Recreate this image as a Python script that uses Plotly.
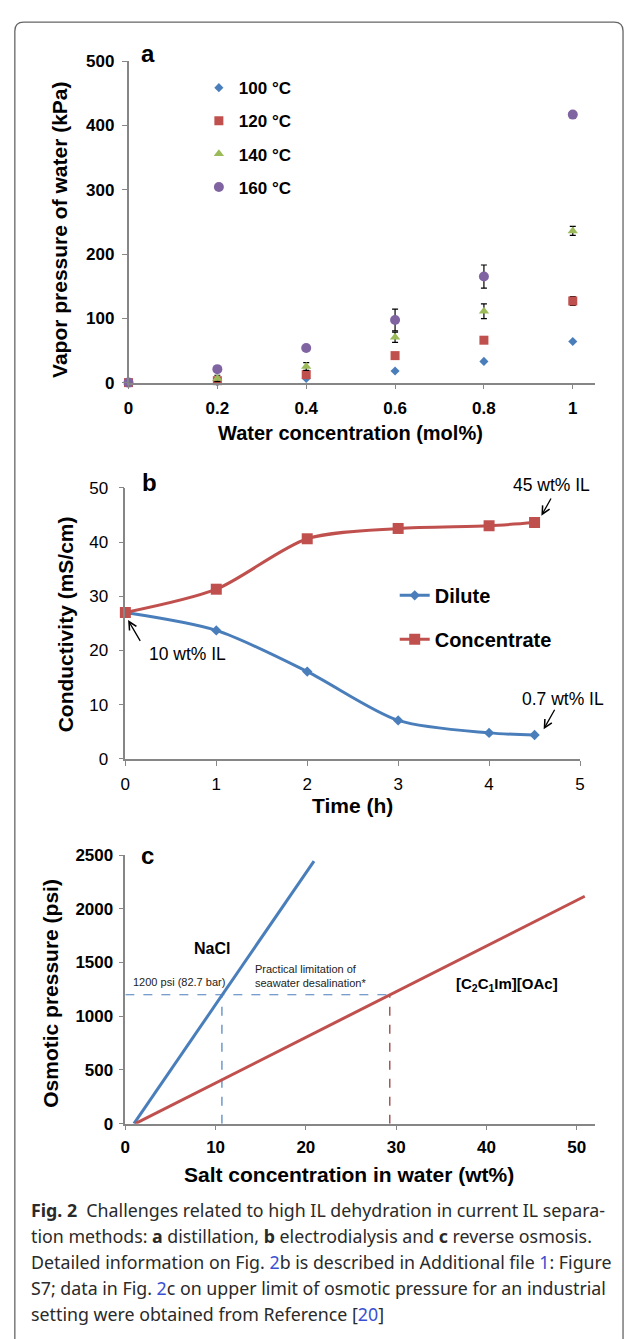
import plotly.graph_objects as go

W, H = 630, 1339
FONT = "Liberation Sans, Arial, sans-serif"
CAP_FONT = "Noto Sans, Open Sans, sans-serif"

# ---------------- Panel a data ----------------
water_conc = [0, 0.2, 0.4, 0.6, 0.8, 1.0]
x_ticks_a = [0, 0.2, 0.4, 0.6, 0.8, 1.0]
x_ticktext_a = ["0", "0.2", "0.4", "0.6", "0.8", "1"]
vp_100 = [0, 1, 6.5, 18, 33, 64]
vp_120 = [0, 3, 12.5, 42, 66, 127]
vp_140 = [0, 6.5, 25, 70.5, 111, 236]
vp_160 = [0, 21, 54, 97.5, 165, 417]
err_100 = [0, 0, 0, 0, 0, 0]
err_120 = [0, 0, 0, 0, 5, 7]
err_140 = [0, 5, 6, 8, 11.5, 7]
err_160 = [0, 0, 0, 17, 18, 0]
series_names_a = ["100 °C", "120 °C", "140 °C", "160 °C"]

# ---------------- Panel b data ----------------
time_h = [0, 1, 2, 3, 4, 4.5]
dilute = [27.0, 23.7, 16.1, 7.1, 4.8, 4.4]
concentrate = [27.0, 31.3, 40.6, 42.5, 43.0, 43.6]

# ---------------- Panel c data ----------------
nacl_conc = [0.95, 20.9]
nacl_psi = [0, 2445]
il_conc = [1.1, 50.9]
il_psi = [0, 2117]
limit_psi = 1200
nacl_limit_conc = 10.7
il_limit_conc = 29.3

BLUE = "#4A7EBB"
RED = "#C0504D"
GREEN = "#9BBB59"
PURPLE = "#8064A2"
AXIS = "#868686"


def px(x):
    return x / W


def py(y):
    return 1 - y / H


fig = go.Figure()

# ---- panel a traces ----
specs = [
    (vp_100, err_100, BLUE, "diamond", 7),
    (vp_120, err_120, RED, "square", 9),
    (vp_140, err_140, GREEN, "triangle-up", 9),
    (vp_160, err_160, PURPLE, "circle", 10),
]
for name, (vals, errs, col, sym, sz) in zip(series_names_a, specs):
    fig.add_trace(go.Scatter(
        x=water_conc, y=vals, mode="markers", name=name,
        marker=dict(color=col, symbol=sym, size=sz),
        error_y=dict(type="data", array=errs, visible=True, color="black",
                     thickness=1.2, width=3),
        xaxis="x", yaxis="y", cliponaxis=False,
        legend="legend", legendgroup=name,
    ))

# ---- panel b traces ----
fig.add_trace(go.Scatter(
    x=time_h, y=dilute, mode="lines+markers", name="Dilute",
    line=dict(color=BLUE, width=3, shape="spline", smoothing=0.8),
    marker=dict(color=BLUE, symbol="diamond", size=8),
    xaxis="x2", yaxis="y2", cliponaxis=False, legend="legend2", legendgroup="dil",
))
fig.add_trace(go.Scatter(
    x=time_h, y=concentrate, mode="lines+markers", name="Concentrate",
    line=dict(color=RED, width=3, shape="spline", smoothing=0.8),
    marker=dict(color=RED, symbol="square", size=11),
    xaxis="x2", yaxis="y2", cliponaxis=False, legend="legend2", legendgroup="con",
))

# ---- panel c traces ----
fig.add_trace(go.Scatter(
    x=[0, il_limit_conc], y=[limit_psi, limit_psi], mode="lines",
    line=dict(color=BLUE, width=1.2, dash="dash"), showlegend=False,
    xaxis="x3", yaxis="y3",
))
fig.add_trace(go.Scatter(
    x=[nacl_limit_conc, nacl_limit_conc], y=[0, limit_psi], mode="lines",
    line=dict(color=BLUE, width=1.2, dash="dash"), showlegend=False,
    xaxis="x3", yaxis="y3",
))
fig.add_trace(go.Scatter(
    x=[il_limit_conc, il_limit_conc], y=[0, limit_psi], mode="lines",
    line=dict(color="#8B2E2E", width=1.2, dash="dash"), showlegend=False,
    xaxis="x3", yaxis="y3",
))
fig.add_trace(go.Scatter(
    x=nacl_conc, y=nacl_psi, mode="lines", line=dict(color=BLUE, width=3),
    showlegend=False, xaxis="x3", yaxis="y3", cliponaxis=False,
))
fig.add_trace(go.Scatter(
    x=il_conc, y=il_psi, mode="lines", line=dict(color=RED, width=3),
    showlegend=False, xaxis="x3", yaxis="y3", cliponaxis=False,
))

axis_common = dict(showline=True, linecolor=AXIS, linewidth=1.5, ticks="outside",
                   ticklen=5, tickcolor=AXIS, tickwidth=1.3, showgrid=False,
                   zeroline=False, fixedrange=True)
bold_tick = dict(family=FONT, size=17, color="black", weight="bold")
reg_tick = dict(family=FONT, size=17, color="black")

fig.update_layout(
    autosize=True, margin=dict(l=0, r=0, t=0, b=0),
    paper_bgcolor="white", plot_bgcolor="white",
    xaxis=dict(domain=[px(125.5), px(599.5)], range=[0, 1.05], anchor="y",
               tickvals=x_ticks_a, ticktext=x_ticktext_a, tickfont=bold_tick,
               ticklabelstandoff=4, **axis_common),
    yaxis=dict(domain=[py(379), py(53)], range=[0, 500], anchor="x",
               tickvals=[0, 100, 200, 300, 400, 500], tickfont=bold_tick,
               ticklabelstandoff=4, **axis_common),
    xaxis2=dict(domain=[px(122.3), px(584.3)], range=[0, 5], anchor="y2",
                tickvals=[0, 1, 2, 3, 4, 5], tickfont=reg_tick,
                ticklabelstandoff=4, **axis_common),
    yaxis2=dict(domain=[py(760.7), py(485.7)], range=[0, 50], anchor="x2",
                tickvals=[0, 10, 20, 30, 40, 50], tickfont=reg_tick,
                ticklabelstandoff=7, **axis_common),
    xaxis3=dict(domain=[px(122.3), px(599.2)], range=[0, 52], anchor="y3",
                tickvals=[0, 10, 20, 30, 40, 50], tickfont=bold_tick,
                ticklabelstandoff=2, **axis_common),
    yaxis3=dict(domain=[py(1130.7), py(858.3)], range=[0, 2500], anchor="x3",
                tickvals=[0, 500, 1000, 1500, 2000, 2500], tickfont=bold_tick,
                ticklabelstandoff=2, **axis_common),
    legend=dict(x=px(197), y=py(62), xanchor="left", yanchor="top",
                font=dict(family=FONT, size=17, color="black", weight="bold"),
                bgcolor="rgba(0,0,0,0)", tracegroupgap=8),
    legend2=dict(x=px(396), y=py(575), xanchor="left", yanchor="top",
                 font=dict(family=FONT, size=20, color="black", weight="bold"),
                 bgcolor="rgba(0,0,0,0)", tracegroupgap=15),
    showlegend=True,
)

ann = []


def txt(x, y, s, size, bold=False, rot=0, xanchor="center", family=FONT, color="black"):
    ann.append(dict(x=px(x), y=py(y), xref="paper", yref="paper", text=s, showarrow=False,
                    textangle=rot, xanchor=xanchor, yanchor="middle",
                    font=dict(family=family, size=size, color=color,
                              weight="bold" if bold else "normal")))


# panel letters
txt(145, 45, "a", 24, True)
txt(146.5, 480, "b", 24, True)
txt(145, 859, "c", 24, True)

# axis titles
txt(56, 224, "Vapor pressure of water (kPa)", 21, True, -90)
txt(351, 430, "Water concentration (mol%)", 20, True)
txt(61.7, 624.5, "Conductivity (mS/cm)", 21, True, -90)
txt(353, 808, "Time (h)", 21, True)
txt(46.7, 998, "Osmotic pressure (psi)", 21, True, -90)
txt(350, 1182, "Salt concentration in water (wt%)", 21, True)

# panel b annotations
txt(185.7, 654.3, "10 wt% IL", 17.5)
txt(555, 483.3, "45 wt% IL", 17.5)
txt(566.7, 700, "0.7 wt% IL", 17.5)
for hx, hy, tx, ty in [(0.03, 25.6, 0.173, 21.5), (4.575, 44.85, 4.69, 48.3), (4.6, 5.45, 4.73, 9.35)]:
    ann.append(dict(x=hx, y=hy, ax=tx, ay=ty, xref="x2", yref="y2", axref="x2", ayref="y2",
                    text="", showarrow=True, arrowhead=5, arrowsize=1.2, arrowwidth=1.3,
                    arrowcolor="black", standoff=0))

# panel c annotations
txt(210, 953.3, "NaCl", 16, True)
txt(177.3, 986.7, "1200 psi (82.7 bar)", 11, color="#222")
ann.append(dict(x=px(252), y=py(980.7), xref="paper", yref="paper", xanchor="left",
                yanchor="middle", align="left", showarrow=False,
                text="Practical limitation of<br>seawater desalination*",
                font=dict(family=FONT, size=11, color="#222")))
txt(510.6, 990, "[C<sub>2</sub>C<sub>1</sub>Im][OAc]", 15, True)

# caption
LINK = "#3A50D0"
cap_lines = [
    "<b>Fig. 2</b>\u00a0 Challenges related to high IL dehydration in current IL separa-",
    "tion methods: <b>a</b> distillation, <b>b</b> electrodialysis and <b>c</b> reverse osmosis.",
    f"Detailed information on Fig. <span style='color:{LINK}'>2</span>b is described in Additional file <span style='color:{LINK}'>1</span>: Figure",
    f"S7; data in Fig. <span style='color:{LINK}'>2</span>c on upper limit of osmotic pressure for an industrial",
    f"setting were obtained from Reference [<span style='color:{LINK}'>20</span>]",
]
for i, line in enumerate(cap_lines):
    txt(24, 1218.5 + 26.2 * i, line, 17.8, xanchor="left", family=CAP_FONT, color="#2a2a2a")

fig.update_layout(annotations=ann)

# rounded border
r = 9
x0, x1 = 10, 628
y0, y1 = 13.3, 1360
path = (f"M {px(x0)},{py(y1)} L {px(x0)},{py(y0 + r)} "
        f"Q {px(x0)},{py(y0)} {px(x0 + r)},{py(y0)} "
        f"L {px(x1 - r)},{py(y0)} Q {px(x1)},{py(y0)} {px(x1)},{py(y0 + r)} "
        f"L {px(x1)},{py(y1)}")
fig.add_shape(type="path", path=path, xref="paper", yref="paper",
              line=dict(color="#666666", width=1.3))

# the plot div is pinned to the page corner so the body margin does not shift it
fig.write_html(
    "out.html",
    config={"displayModeBar": False, "responsive": True},
    default_width=f"{W}px",
    default_height=f"{H}px; position:absolute; left:0; top:0",
)
